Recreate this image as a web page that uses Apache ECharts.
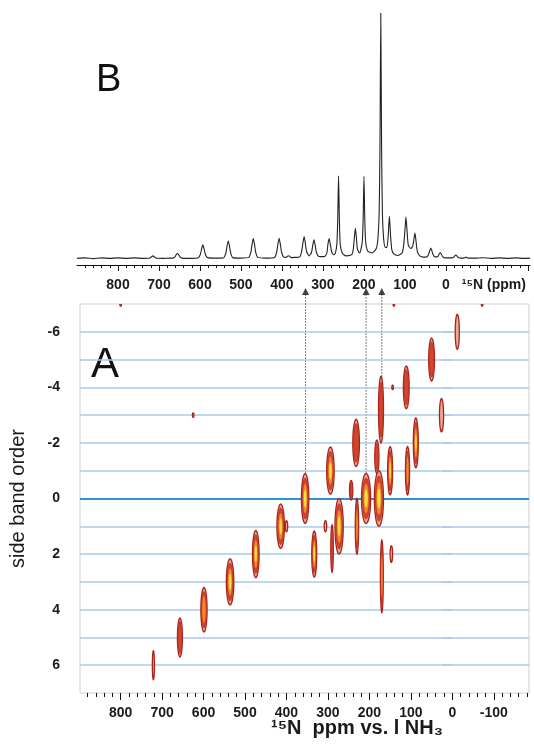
<!DOCTYPE html>
<html><head><meta charset="utf-8">
<script src="https://cdn.jsdelivr.net/npm/echarts@6/dist/echarts.min.js"></script>
<style>html,body{margin:0;padding:0;background:#fff}#c{width:534px;height:746px}</style>
</head><body><div id="c"></div>
<script>
// ---- 1D spectrum (panel B): ppm and relative intensity ----
const specPpm = [900,880,860,840,820,800,780,760,740,
  726,721,718,715,712,709,704, 690,675,
  666,661,658,655,652,649,644, 625,
  604,599,596,593,590,587,582, 560,
  542,537,534,531,528,525,520, 500,
  481,476,473,470,467,464,459, 440,
  418,413,410,407,404,401,396,
  390,387,384,381,377, 368,
  357,352,349,346,343,340, 334,
  328,325,322,319,316,310, 300,
  294,290,288,285,282,279,274,
  270,266,264,262,260,258,253, 244,
  230,226,223.5,221,218.5,216,211,
  208,204,202,200,198,196,191, 180,
  170,166,163,161,159,157,155,152,148,
  144,141,138,135,132,127, 118,
  107,103,100,97.6,95,92, 86,
  81,78,75.6,73,70,64, 55,
  46,42,39.5,37,34.5,32,27,
  20,16.5,14,11.5,8,3, -10,
  -18,-21.5,-24,-26.5,-30,-37,
  -45,-49,-53,
  -70,-90,-110,-130,-150,-170,-190,-205];
const specInt = [0,0.2,-0.1,0.2,0,0.2,0,0.2,0,
  0.05,0.3,0.7,1.0,0.7,0.3,0.05, 0,0.1,
  0.1,0.6,1.5,2.1,1.5,0.6,0.1, 0,
  0.3,1.7,3.9,5.5,3.9,1.7,0.3, 0.1,
  0.3,2.1,5.0,7.1,5.0,2.1,0.3, 0.1,
  0.4,2.4,5.7,8.1,5.7,2.4,0.4, 0.1,
  0.4,2.5,5.7,8.2,5.7,2.5,0.5,
  0.4,0.8,1.1,0.8,0.3, 0.4,
  0.6,2.8,6.2,8.9,6.2,2.8, 1.0,
  2.4,5.3,7.6,5.3,2.4,0.8, 0.7,
  1.0,2.6,5.6,8.1,5.7,2.8,1.5,
  2.0,6,16,33.7,16,6,2.2, 1.0,
  1.5,3.8,8.5,12.3,8.5,3.8,2.2,
  3.2,7,16,33.4,16,7,3, 2.2,
  4,8,18,45,100,45,18,8,4.5,
  4.5,9,17.1,9,3.5,1.8, 1.2,
  2.2,5.5,11.5,16.8,11.5,5.5, 4,
  5,8,10.3,7,3,1, 0.5,
  0.7,1.8,3.2,4.2,3.2,1.8,0.6,
  0.7,1.8,2.4,1.8,0.7,0.2, 0.2,
  0.4,1.0,1.4,1.0,0.4,0.1,
  0.2,0.5,0.1,
  0.1,0.25,0,0.2,0,0.2,0,0.1];

// ---- 2D side band contour peaks (panel A) ----
const peakPpm        = [721, 657, 599, 536, 474, 414, 400, 355, 333, 306, 290, 273, 294, 232, 244, 230, 208, 177, 172, 182, 170, 147, 150, 108,  88, 111,  50,  26, -12, 141, -72, 144, 800, 625];
const peakOrder      = [6.0, 5.0, 4.0, 3.0, 2.0, 1.0, 1.0, 0.0, 2.0, 1.0, 1.8, 1.0,-1.0,-2.0,-0.3, 1.0, 0.0, 0.0,-3.2,-1.5, 2.8, 2.0,-1.0,-1.0,-2.0,-4.0,-5.0,-3.0,-6.0,-7.0,-7.0,-4.0,-7.0,-3.0];
const peakHalfWidth  = [2.5,   6, 7.5,   9,   8,   9,   3,   9,   6,   3,   3,  10,   9,   8,   4,   4,  11,  11,   6,   5, 3.5,   3,   6,   5,   6,   7,   7,   5,   5,   1,   1,   1,   1,   1];
const peakHalfHeight = [0.52,0.70,0.80,0.83,0.85,0.80,0.20,0.90,0.83,0.20,0.85,1.00,0.85,0.85,0.35,1.00,0.90,1.00,1.20,0.60,1.30,0.30,0.87,0.87,0.90,0.77,0.77,0.60,0.63,0.08,0.08,0.08,0.08,0.08];
const peakLevel      = [1,   2,   3,   4,   4,   4,   1,   4,   4,   1,   2,   4,   4,   2,   2,   3,   4,   4,   2,   2,   3,   1,   4,   3,   4,   2,   2,   1,   1,   1,   1,   1,   1,   1];

// ---- guide lines from panel B markers down to panel A peaks ----
const guidePpm      = [354, 208, 170];
const guideEndOrder = [-0.9, -0.85, -3.9];
const guideStartOrder = -7.35;
const markerOrder = -7.45;

// ---- axes / ticks ----
const bandOrders = [-6,-5,-4,-3,-2,-1,0,1,2,3,4,5,6];
const orderLabels = [-6,-4,-2,0,2,4,6];
const topTickLabels = [800,700,600,500,400,300,200,100,0];
const topMajorTicks = [800,700,600,500,400,300,200,100,0,-100,-200];
const bottomTickLabels = [800,700,600,500,400,300,200,100,0,-100];
const unitLabelPpm = -117;
const topMinor = []; for (let v = 880; v >= -200; v -= 20) topMinor.push(v);
const botMinor = []; for (let v = 880; v >= -180; v -= 20) botMinor.push(v);

const FONT = 'Liberation Sans, Arial, Helvetica, sans-serif';
const INK = '#1a1a1a';

const fills = ['#eba996', '#d2452c', '#ef8a2a', '#fce23a'];
const scales = [1, 0.78, 0.56, 0.34];
function renderPeak(params, api) {
  const c = api.coord([api.value(0), api.value(1)]);
  const s = api.size([api.value(2), api.value(3)]);
  const lvl = api.value(4);
  const children = [];
  for (let k = 0; k < lvl; k++) {
    const pts = [];
    const rx = Math.max(s[0] * scales[k], 0.8), ry = Math.max(s[1] * (k === 0 ? 1 : scales[k] * 1.05), 1);
    for (let i = 0; i < 32; i++) {
      const a = i / 32 * 2 * Math.PI;
      pts.push([c[0] + rx * Math.cos(a), c[1] + ry * Math.sin(a)]);
    }
    children.push({type: 'polygon', shape: {points: pts},
      style: {fill: fills[k], stroke: k === 0 ? '#a9231b' : (k === 1 ? '#b82a1e' : null), lineWidth: k === 0 ? 1.3 : 0.7}});
  }
  return {type: 'group', children};
}
function renderGuide(params, api) {
  const p0 = api.coord([api.value(0), guideStartOrder]);
  const p1 = api.coord([api.value(0), api.value(1)]);
  return {type: 'line', shape: {x1: p0[0], y1: p0[1], x2: p1[0], y2: p1[1]},
    style: {stroke: '#555', lineWidth: 1, lineDash: [1.5, 1.5]}};
}

const chart = echarts.init(document.getElementById('c'), null, {renderer: 'canvas'});
const labelStyle = {color: INK, fontSize: 14, fontWeight: 'bold', fontFamily: FONT};
const hiddenLine = {show: true, onZero: false, lineStyle: {color: 'rgba(0,0,0,0)'}};

chart.setOption({
  animation: false,
  backgroundColor: '#fff',
  grid: [
    {left: 77, top: 13, width: 453, height: 252, show: false},
    {left: 77, top: 304, width: 452, height: 389, show: true, borderColor: '#cfcfcf', borderWidth: 1, backgroundColor: 'transparent'}
  ],
  xAxis: [
    {gridIndex: 0, type: 'value', min: -205, max: 900, inverse: true, position: 'bottom',
     axisLine: {show: true, onZero: false, lineStyle: {color: '#111', width: 1}},
     axisTick: {show: true, length: 6, customValues: topMajorTicks, lineStyle: {color: '#111'}},
     axisLabel: {show: true, margin: 13, customValues: topTickLabels.concat([unitLabelPpm]), ...labelStyle,
       formatter: v => (v === unitLabelPpm ? '¹⁵N (ppm)' : String(v))},
     splitLine: {show: false}},
    {gridIndex: 0, type: 'value', min: -205, max: 900, inverse: true, position: 'bottom',
     axisLine: hiddenLine, axisLabel: {show: false}, splitLine: {show: false},
     axisTick: {show: true, length: 3, customValues: topMinor, lineStyle: {color: '#111'}}},
    {gridIndex: 1, type: 'value', min: -185, max: 898, inverse: true, position: 'bottom',
     axisLine: hiddenLine,
     axisTick: {show: true, length: 7, customValues: bottomTickLabels, lineStyle: {color: '#111'}},
     axisLabel: {show: true, margin: 13, customValues: bottomTickLabels, ...labelStyle},
     splitLine: {show: false}},
    {gridIndex: 1, type: 'value', min: -185, max: 898, inverse: true, position: 'bottom',
     axisLine: hiddenLine, axisLabel: {show: false}, splitLine: {show: false},
     axisTick: {show: true, length: 4, customValues: botMinor, lineStyle: {color: '#111'}}}
  ],
  yAxis: [
    {gridIndex: 0, type: 'value', min: -2.7, max: 100, show: false},
    {gridIndex: 1, type: 'value', min: -7, max: 7, inverse: true,
     name: 'side band order', nameLocation: 'middle', nameGap: 52,
     nameTextStyle: {color: INK, fontSize: 20, fontFamily: FONT},
     axisLine: {show: false},
     axisTick: {show: true, length: 10, customValues: bandOrders, lineStyle: {color: '#a9cbea', width: 1.5}},
     axisLabel: {show: true, margin: 20, customValues: orderLabels, ...labelStyle},
     splitLine: {show: false}}
  ],
  graphic: [
    {type: 'text', left: 96, top: 62, style: {text: 'B', fontSize: 38, fontFamily: FONT, fill: '#111'}},
    {type: 'text', left: 91, top: 344, style: {text: 'A', fontSize: 42, fontFamily: FONT, fill: '#111'}},
    {type: 'text', left: 271, top: 718, style: {text: '¹⁵N  ppm vs. l NH₃', fontSize: 20, fontWeight: 'bold', fontFamily: FONT, fill: INK}}
  ],
  series: [
    {type: 'line', xAxisIndex: 0, yAxisIndex: 0, symbol: 'none', smooth: 0.2,
     lineStyle: {color: '#222', width: 1.1},
     data: specPpm.map((p, i) => [p, specInt[i]])},
    {type: 'scatter', xAxisIndex: 2, yAxisIndex: 1, data: [], silent: true,
     markLine: {silent: true, symbol: ['none', 'none'], label: {show: false},
       data: bandOrders.map(v => ({yAxis: v, lineStyle: v === 0 ? {color: '#2f8fd8', width: 2, type: 'solid'} : {color: '#a9cbea', width: 1.5, type: 'solid'}}))}},
    {type: 'custom', xAxisIndex: 2, yAxisIndex: 1, clip: false, silent: true, z: 3,
     renderItem: renderGuide,
     data: guidePpm.map((p, i) => [p, guideEndOrder[i]])},
    {type: 'scatter', xAxisIndex: 2, yAxisIndex: 1, clip: false, silent: true, z: 4,
     symbol: 'triangle', symbolSize: [7, 7], itemStyle: {color: '#111'},
     data: guidePpm.map(p => [p, markerOrder])},
    {type: 'custom', xAxisIndex: 2, yAxisIndex: 1, clip: true, silent: true, z: 5,
     renderItem: renderPeak,
     encode: {x: 0, y: 1},
     data: peakPpm.map((p, i) => [p, peakOrder[i], peakHalfWidth[i], peakHalfHeight[i], peakLevel[i]])}
  ]
});
</script>
</body></html>
